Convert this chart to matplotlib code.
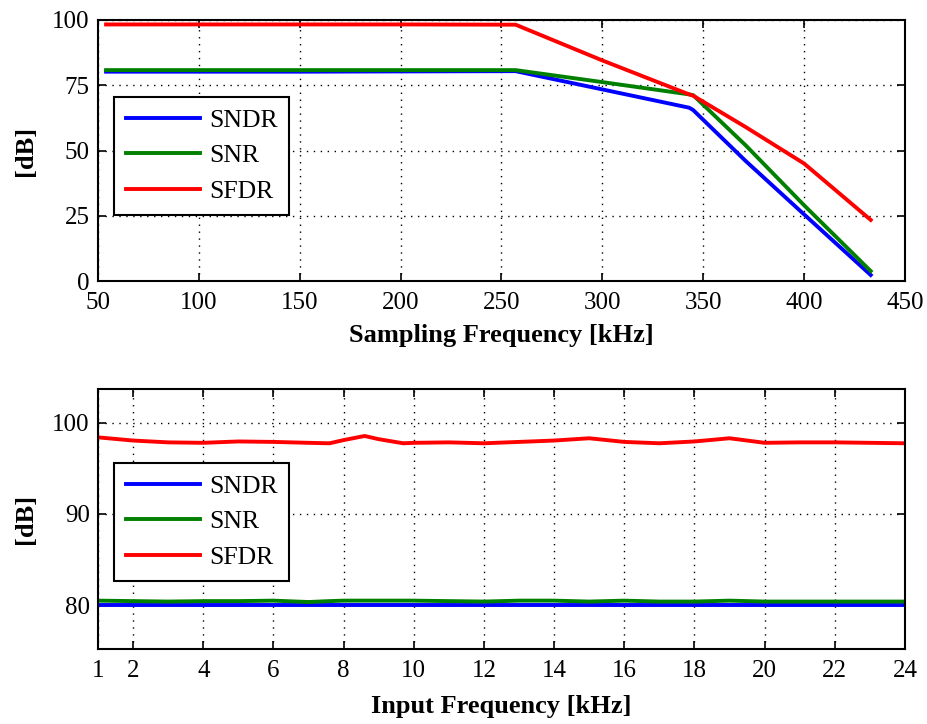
import matplotlib
matplotlib.use('Agg')
import matplotlib.pyplot as plt

plt.rcParams['font.family'] = ['Liberation Serif', 'DejaVu Serif']

# top: sweep of sampling frequency [kHz]
fs = [54, 100, 150, 200, 257, 300, 343, 345, 371, 400, 433]
sndr_fs = [80.2, 80.2, 80.2, 80.3, 80.4, 73.4, 66.4, 65.5, 46.0, 25.5, 2.3]
snr_fs = [80.8, 80.8, 80.8, 80.8, 80.8, 76.2, 71.5, 71.2, 52.0, 29.0, 3.8]
sfdr_fs = [98.3, 98.3, 98.3, 98.3, 98.2, 84.5, 71.5, 71.0, 59.0, 45.0, 23.4]

# bottom: sweep of input frequency [kHz]
fin = [1, 2, 3, 4, 5, 6, 7, 7.6, 8, 8.6, 9, 9.7, 10, 11, 12, 13, 14, 15, 16, 17, 18, 19, 20, 21, 22, 23, 24]
sndr_fin = [80.0, 80.0, 80.0, 80.0, 80.0, 80.0, 80.0, 80.0, 80.0, 80.0, 80.0, 80.0, 80.0, 80.0,
            80.0, 80.0, 80.0, 80.0, 80.0, 80.0, 80.0, 80.0, 80.0, 80.0, 80.0, 80.0, 80.0]
snr_fin = [80.5, 80.45, 80.4, 80.45, 80.45, 80.5, 80.35, 80.45, 80.5, 80.5, 80.5, 80.5, 80.5, 80.45,
           80.4, 80.5, 80.5, 80.4, 80.5, 80.4, 80.4, 80.5, 80.4, 80.4, 80.4, 80.4, 80.4]
sfdr_fin = [98.4, 98.05, 97.85, 97.8, 97.95, 97.9, 97.8, 97.75, 98.1, 98.55, 98.2, 97.75, 97.8, 97.85,
            97.75, 97.9, 98.05, 98.3, 97.9, 97.75, 97.95, 98.3, 97.8, 97.85, 97.85, 97.8, 97.75]

labels = ['SNDR', 'SNR', 'SFDR']
colors = ['#0000ff', '#008000', '#ff0000']

fig = plt.figure(figsize=(9.28, 7.24), dpi=100)
ax1 = fig.add_axes([98 / 928, 1 - 281 / 724, 807 / 928, 261 / 724])
ax2 = fig.add_axes([98 / 928, 1 - 649 / 724, 807 / 928, 260 / 724])

for y, lab, c in zip([sndr_fs, snr_fs, sfdr_fs], labels, colors):
    ax1.plot(fs, y, color=c, lw=2.8, label=lab)
for y, lab, c in zip([sndr_fin, snr_fin, sfdr_fin], labels, colors):
    ax2.plot(fin, y, color=c, lw=2.8, label=lab)

ax1.set_xlim(50, 450)
ax1.set_ylim(0, 100)
ax1.set_xticks(range(50, 451, 50))
ax1.set_yticks([0, 25, 50, 75, 100])
ax1.set_xlabel('Sampling Frequency [kHz]', fontweight='bold', fontsize=19)
ax1.set_ylabel('[dB]', fontweight='bold', fontsize=19)
ax1.xaxis.set_label_coords(0.5, -0.165)

ax2.set_xlim(1, 24)
ax2.set_ylim(75.2, 103.7)
ax2.set_xticks([1, 2, 4, 6, 8, 10, 12, 14, 16, 18, 20, 22, 24])
ax2.set_yticks([80, 90, 100])
ax2.set_xlabel('Input Frequency [kHz]', fontweight='bold', fontsize=19)
ax2.set_ylabel('[dB]', fontweight='bold', fontsize=19)
ax2.xaxis.set_label_coords(0.5, -0.175)

for ax, ytop in [(ax1, 0.705), (ax2, 0.715)]:
    ax.yaxis.set_label_coords(-0.076, 0.5)
    ax.grid(True, color='black', linestyle=(0, (1, 4)), linewidth=1)
    ax.tick_params(direction='in', top=True, right=True, labelsize=18, length=6, width=1.2)
    ax.tick_params(axis='x', pad=8)
    ax.tick_params(axis='y', pad=6)
    for sp in ax.spines.values():
        sp.set_linewidth(1.5)
    leg = ax.legend(loc='upper left', bbox_to_anchor=(0.02, ytop), fontsize=18.5,
                    fancybox=False, framealpha=1, edgecolor='black', handlelength=2.9,
                    borderpad=0.45, labelspacing=0.5, borderaxespad=0, handletextpad=0.35)
    leg.get_frame().set_linewidth(1.5)
    ax.set_axisbelow(True)

fig.savefig('out.png', dpi=100)
